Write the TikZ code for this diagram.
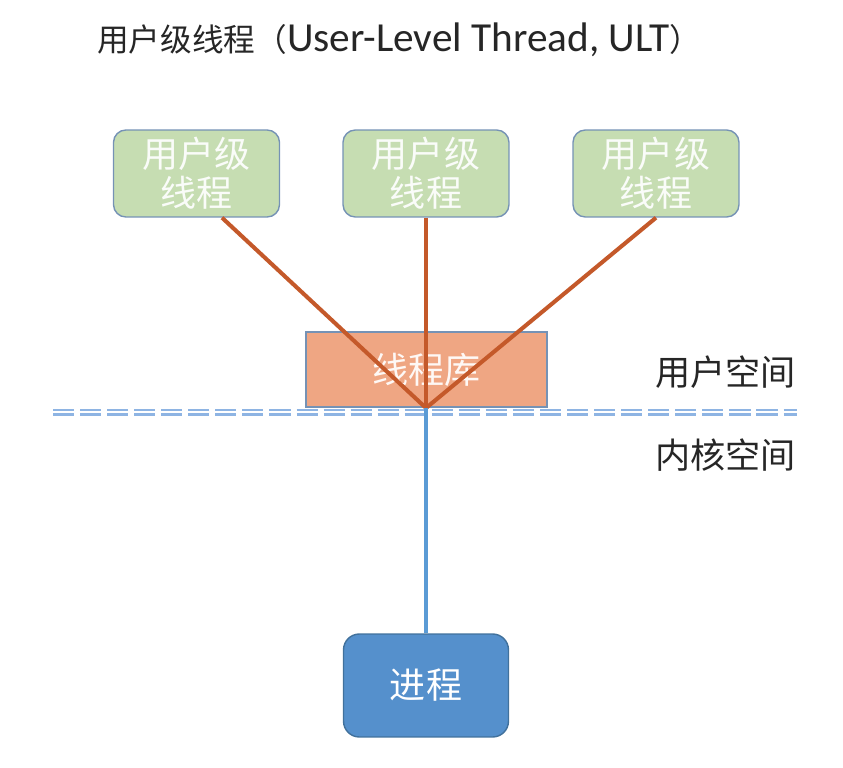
\documentclass[tikz,border=0pt]{standalone}
\usepackage{fontspec}
\setmainfont{Carlito}
\newfontfamily\cjk{Noto Sans CJK SC}
\definecolor{ultfill}{HTML}{C6DDB2}
\definecolor{ultedge}{HTML}{7592B5}
\definecolor{ultlink}{HTML}{C4592A}
\definecolor{libfill}{HTML}{EFA683}
\definecolor{kline}{HTML}{5B9BD5}
\definecolor{sepline}{HTML}{8EB4E3}
\definecolor{procfill}{HTML}{5590CC}
\definecolor{procedge}{HTML}{41719C}

\begin{document}
\begin{tikzpicture}[x=0.02cm, y=-0.02cm,
  ult/.style={draw=ultedge, fill=ultfill, line width=0.8pt, rounded corners=7pt,
    minimum width=3.32cm, minimum height=1.74cm, align=center, text=white!92!ultfill,
    font=\cjk\fontsize{20.5pt}{22pt}\selectfont},
  lib/.style={draw=ultedge, fill=libfill, line width=0.6pt,
    minimum width=4.82cm, minimum height=1.5cm, text=white!92!libfill,
    font=\cjk\fontsize{20.5pt}{22pt}\selectfont},
  proc/.style={draw=procedge, fill=procfill, line width=0.8pt, rounded corners=9pt,
    minimum width=3.3cm, minimum height=2.06cm, text=white,
    font=\cjk\fontsize{20.5pt}{22pt}\selectfont},
  space/.style={anchor=east, inner sep=0pt, text=black!85, font=\cjk\fontsize{20pt}{22pt}\selectfont},
  link/.style={ultlink, line width=2.3pt},
  sep/.style={sepline, line width=1.5pt, dash pattern=on 12pt off 3.4pt}]
  \useasboundingbox (0,0) rectangle (843,768);

  % 标题
  \node[anchor=west, inner sep=0pt, text=black!85, font=\fontsize{23.5pt}{26pt}\selectfont] (title) at (97,40)
    {{\cjk\fontsize{18pt}{22pt}\selectfont 用户级线程（}User-Level Thread, ULT{\cjk\fontsize{18pt}{22pt}\selectfont ）}};

  % 三个用户级线程
  \node[ult] (u1) at (196.5,173.5) {用户级\\线程};
  \node[ult] (u2) at (426,173.5)   {用户级\\线程};
  \node[ult] (u3) at (656,173.5)   {用户级\\线程};

  % 线程库
  \node[lib] (lib) at (426.5,369.5) {线程库};
  \coordinate (hub) at (426,408);

  % 用户空间 / 内核空间 分界
  \coordinate (sepL) at (53,410);
  \coordinate (sepR) at (797,410);
  \draw[sep] (sepL) -- (sepR);
  \draw[sep] ([yshift=-4.5*0.02cm]sepL) -- ([yshift=-4.5*0.02cm]sepR);

  \node[space] (us) at (796,372) {用户空间};
  \node[space] (ks) at (796,455) {内核空间};

  % 进程
  \node[proc] (proc) at (426,685.5) {进程};

  \draw[link] (u1.-60)  -- (hub);
  \draw[link] (u2.south) -- (hub);
  \draw[link] (u3.south) -- (hub);
  \draw[kline, line width=2.3pt] (hub) -- (proc.north);
\end{tikzpicture}
\end{document}
